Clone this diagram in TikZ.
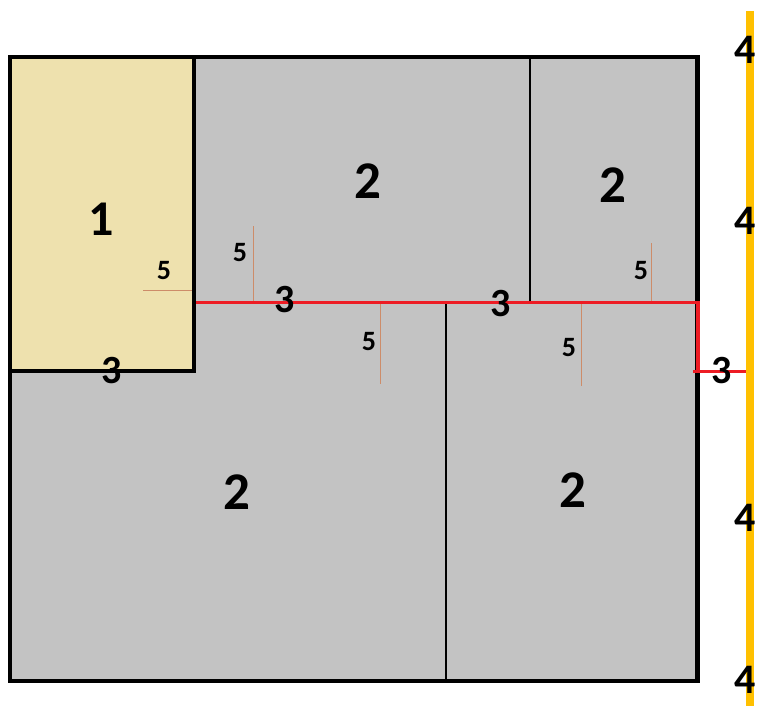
\documentclass[tikz,border=0pt]{standalone}
\usepackage{fontspec}
\setmainfont{Carlito}
\definecolor{roomgray}{RGB}{195,195,195}
\definecolor{beige}{RGB}{238,225,174}
\definecolor{pipered}{RGB}{237,28,36}
\definecolor{railyellow}{RGB}{255,192,0}
\definecolor{markbrown}{RGB}{205,140,105}
\begin{document}
\begin{tikzpicture}[x=1pt,y=-1pt,
  lbl/.style={font=\bfseries\fontsize{#1}{#1}\selectfont, inner sep=0pt, text=black},
  border/.style={draw=black, line width=4.5pt},
  partition/.style={draw=black, line width=1.1pt},
  marker/.style={draw=markbrown, line width=0.9pt},
  pipe/.style={draw=pipered, line width=3.5pt},
  rail/.style={draw=railyellow, line width=8pt}]
\useasboundingbox (0,0) rectangle (757,706);
% areas
\fill[roomgray] (10,57) rectangle (697.5,681);
\fill[beige] (10,57) rectangle (194,371);
% partitions
\draw[partition] (530,57) -- (530,302);
\draw[partition] (446,302) -- (446,681);
% markers
\draw[marker] (143,290) -- (192,290);
\draw[marker] (253,226) -- (253,302);
\draw[marker] (380,302) -- (380,384);
\draw[marker] (581,302) -- (581,386);
\draw[marker] (651,243) -- (651,302);
% borders
\draw[border] (10,57) rectangle (697.5,681);
\draw[border, line width=4pt] (194,57) -- (194,371) -- (10,371);
% pipe
\draw[pipe] (196,302.5) -- (698,302.5) -- (698,371.5);
\draw[pipe] (693,371.5) -- (746,371.5);
% rail
\draw[rail] (750,11) -- (750,706);
% labels
\node[lbl=50] (one) at (101,219) {1};
\node[lbl=53] (twoA) at (368,181) {2};
\node[lbl=53] (twoB) at (613,185) {2};
\node[lbl=53] (twoC) at (237,492) {2};
\node[lbl=53] (twoD) at (573,490) {2};
\node[lbl=40] (threeA) at (285,300) {3};
\node[lbl=40] (threeB) at (501,304) {3};
\node[lbl=40] (threeC) at (112,371) {3};
\node[lbl=40] (threeD) at (722,371) {3};
\node[lbl=42] (fourA) at (745.5,50) {4};
\node[lbl=42] (fourB) at (745.5,221) {4};
\node[lbl=42] (fourC) at (745.5,518) {4};
\node[lbl=42] (fourD) at (745.5,680) {4};
\node[lbl=28] (fiveA) at (164,271) {5};
\node[lbl=28] (fiveB) at (240,253) {5};
\node[lbl=28] (fiveC) at (369,342) {5};
\node[lbl=28] (fiveD) at (569,348) {5};
\node[lbl=28] (fiveE) at (641,271) {5};
\end{tikzpicture}
\end{document}
